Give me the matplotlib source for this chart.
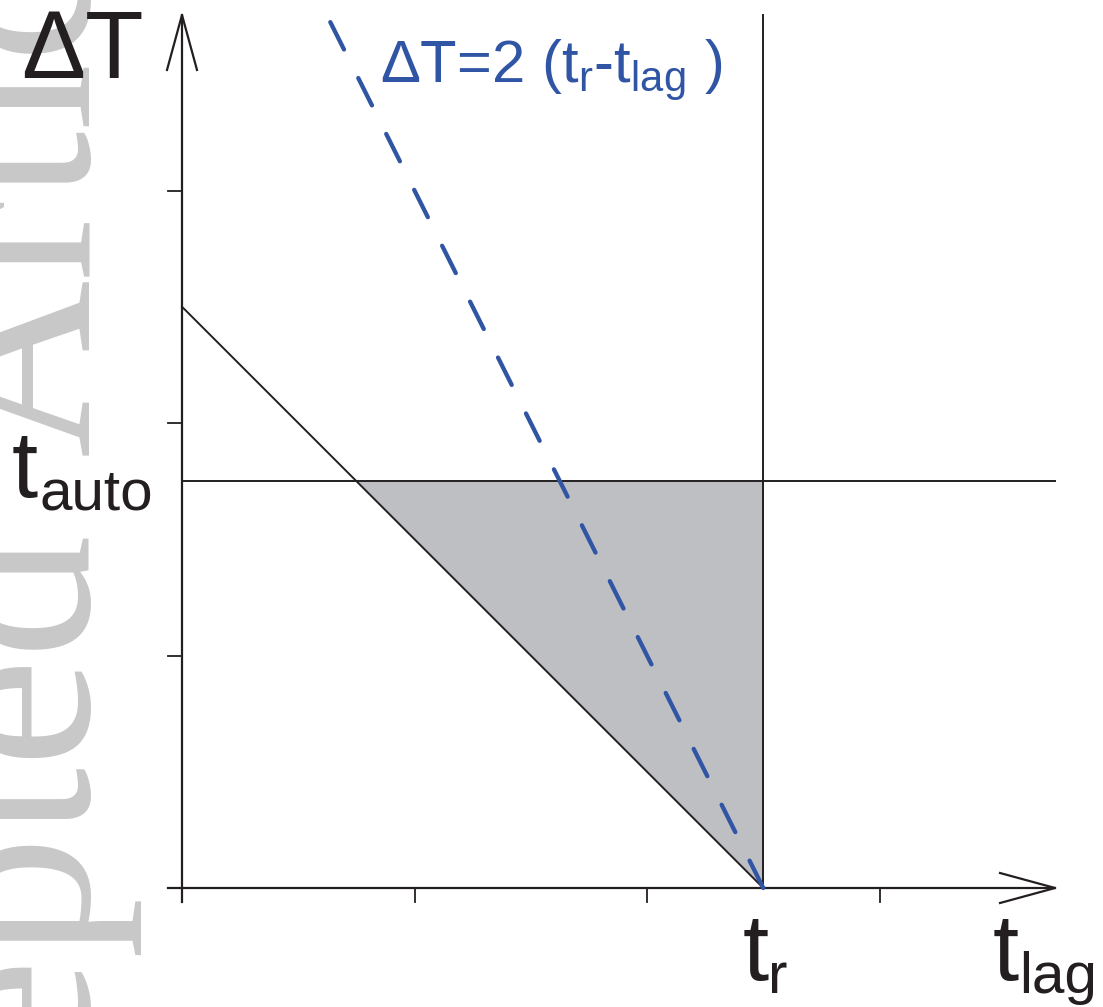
import numpy as np
import matplotlib.pyplot as plt

plt.rcParams['font.family'] = ['Liberation Sans', 'DejaVu Sans']
plt.rcParams['mathtext.fontset'] = 'custom'
plt.rcParams['mathtext.rm'] = 'Liberation Sans'
plt.rcParams['mathtext.it'] = 'Liberation Sans'
plt.rcParams['lines.scale_dashes'] = False

# valores do esquema (unidades arbitrarias)
x_ticks = [0, 1, 2, 3]
y_ticks = [1, 2, 3]
t_r = 2.5
t_auto = 1.75
x_max = 3.755
y_max = 3.755

preto = '#231f20'
azul = '#2f55a4'
cinza = '#bebfc3'

# escala: 232.5 px por unidade, origem em (182, 888) px
s = 232.5
fig = plt.figure(figsize=(11.03, 10.07), dpi=100)
ax = fig.add_axes([0, 0, 1, 1])
ax.set_xlim(-182 / s, (1103 - 182) / s)
ax.set_ylim(-(1007 - 888) / s, 888 / s)
ax.axis('off')
ax.patch.set_visible(False)

# marca d'agua
marca = dict(rotation=90, rotation_mode='anchor', va='baseline', fontsize=177,
             family='Liberation Serif', color='#c8c8c8', zorder=-1)
fig.text(88 / 1103, -453 / 1007, 'Accepted', ha='left', **marca)
fig.text(88 / 1103, (1007 - 455) / 1007, 'Article', ha='left', **marca)

# area sombreada
tl = np.linspace(t_r - t_auto, t_r, 50)
ax.fill_between(tl, t_r - tl, t_auto, color=cinza, lw=0, zorder=1)

# eixos com setas
tick = 14 / s
ax.plot([-tick, x_max], [0, 0], color=preto, lw=1.6, zorder=3)
ax.plot([0, 0], [-tick, y_max], color=preto, lw=1.6, zorder=3)
hl, hw = 55 / s, 15 / s
ax.plot([x_max - hl, x_max, x_max - hl], [hw, 0, -hw], color=preto, lw=1.6, zorder=3)
ax.plot([-hw, 0, hw], [y_max - hl, y_max, y_max - hl], color=preto, lw=1.6, zorder=3)
for xt in x_ticks:
    ax.plot([xt, xt], [0, -tick], color=preto, lw=1.3, zorder=3)
for yt in y_ticks:
    ax.plot([0, -tick], [yt, yt], color=preto, lw=1.3, zorder=3)

# linhas
ax.plot([0, x_max], [t_auto, t_auto], color=preto, lw=1.4, zorder=2)
ax.plot([t_r, t_r], [0, y_max], color=preto, lw=1.4, zorder=2)
ax.plot([0, t_r], [t_r, 0], color=preto, lw=1.4, zorder=2)
td = np.array([t_r, t_r - 2.0])
ax.plot(td, 2 * (t_r - td), color=azul, lw=3.1, dashes=(22, 23),
        dash_capstyle='round', zorder=4)


def px(x, y):
    # posicao em pixels (a partir do canto superior esquerdo) -> dados
    return (x - 182) / s, (888 - y) / s


def rotulo(x, y, base, sub, dx, dy):
    ax.text(*px(x, y), base, fontsize=68, color=preto, ha='left', va='baseline')
    ax.text(*px(x + dx, y + dy), sub, fontsize=42, color=preto, ha='left', va='baseline')


# textos
ax.text(*px(144, 78), 'ΔT', fontsize=69, color=preto, ha='right', va='baseline')
rotulo(12, 497, 't', 'auto', 27, 13)
rotulo(743, 980, 't', 'r', 25, 13)
rotulo(993, 980, 't', 'lag', 26, 13)
ax.text(*px(380, 83),
        r'$\text{ΔT=2 (t}_\text{r}\text{-t}_\text{lag}\text{ )}$',
        fontsize=43, color=azul, ha='left', va='baseline')

plt.savefig('out.png', dpi=100)
